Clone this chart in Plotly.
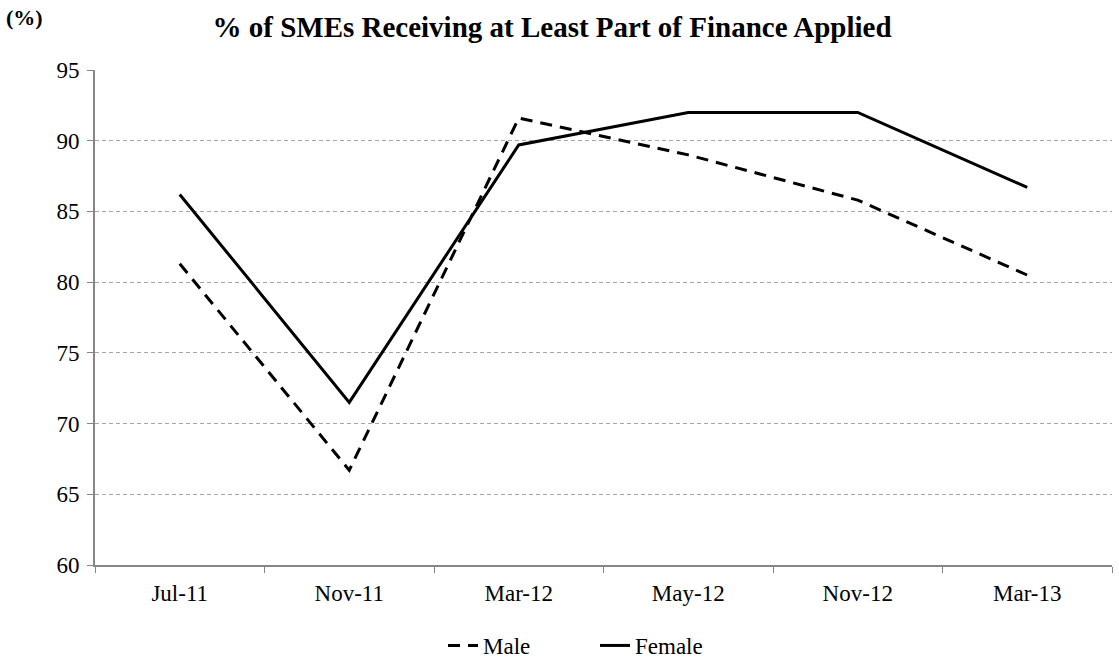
import plotly.graph_objects as go

categories = ["Jul-11", "Nov-11", "Mar-12", "May-12", "Nov-12", "Mar-13"]
male = [81.3, 66.7, 91.6, 89.0, 85.8, 80.5]
female = [86.2, 71.5, 89.7, 92.0, 92.0, 86.7]
y_ticks = [60, 65, 70, 75, 80, 85, 90, 95]

FONT = "Liberation Serif"

fig = go.Figure()
fig.add_trace(go.Scatter(x=categories, y=male, name="Male", mode="lines",
                         line=dict(color="black", width=3, dash="12px,8px")))
fig.add_trace(go.Scatter(x=categories, y=female, name="Female", mode="lines",
                         line=dict(color="black", width=3)))

fig.update_layout(
    width=1119, height=663,
    margin=dict(l=95, r=7, t=70, b=98, autoexpand=False),
    paper_bgcolor="white", plot_bgcolor="white",
    font=dict(family=FONT, size=23, color="black"),
    title=dict(text="<b>% of SMEs Receiving at Least Part of Finance Applied</b>",
               x=0.4933, xanchor="center", y=0.9593, yanchor="middle",
               font=dict(family=FONT, size=29, color="black")),
    showlegend=True,
    legend=dict(orientation="h", x=0.3422, xanchor="left", y=-0.1626, yanchor="middle",
                font=dict(family=FONT, size=23, color="black"),
                traceorder="normal", entrywidth=107, entrywidthmode="pixels"),
    annotations=[dict(text="<b>(%)</b>", xref="paper", yref="paper",
                      x=-0.0895, y=1.107, xanchor="left", yanchor="middle",
                      showarrow=False, font=dict(family=FONT, size=22, color="black"))],
)

fig.update_xaxes(
    type="category", range=[-0.5, 5.5],
    showline=True, linecolor="#868686", linewidth=2,
    ticks="outside", tickson="boundaries", ticklen=6, tickcolor="#868686", tickwidth=1,
    ticklabelstandoff=6,
    showgrid=False, tickfont=dict(family=FONT, size=23, color="black"),
)
fig.update_yaxes(
    range=[60, 95], tickvals=y_ticks,
    showline=True, linecolor="#868686", linewidth=2,
    ticks="outside", ticklen=6, tickcolor="#868686", tickwidth=1,
    ticklabelstandoff=3,
    showgrid=True, gridcolor="#a6a6a6", gridwidth=1, griddash="4px,3px",
    zeroline=False, tickfont=dict(family=FONT, size=23, color="black"),
)

fig.write_html("out.html",
               config={"displayModeBar": False},
               post_script="document.body.style.margin='0';document.body.style.overflow='hidden';")
